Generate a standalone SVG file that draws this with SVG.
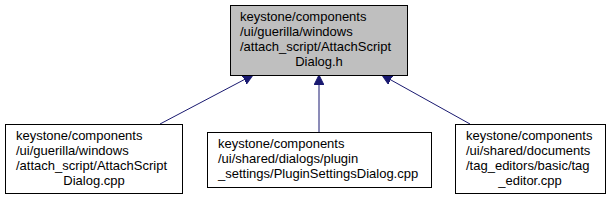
<svg xmlns="http://www.w3.org/2000/svg" width="612" height="200" viewBox="0 0 612 200">
<style>
.box{fill:#ffffff;stroke:#000000;stroke-width:1}
.cur{fill:#bfbfbf;stroke:#000000;stroke-width:1}
text{font-family:"Liberation Sans",Arial,sans-serif;font-size:13px;fill:#000000}
.edge{stroke:#191970;stroke-width:1;fill:none}
</style>
<defs>
<marker id="ah" viewBox="0 0 10 10" refX="10" refY="5" markerWidth="10" markerHeight="10" markerUnits="userSpaceOnUse" orient="auto">
<path d="M0,0 L10,5 L0,10 Z" fill="#191970" stroke="#191970"/>
</marker>
</defs>
<rect x="0" y="0" width="612" height="200" fill="#ffffff"/>
<g id="connectors">
<line class="edge" x1="160" y1="124" x2="253" y2="75" marker-end="url(#ah)"/>
<line class="edge" x1="319" y1="132" x2="319" y2="75" marker-end="url(#ah)"/>
<line class="edge" x1="470" y1="124" x2="382" y2="75" marker-end="url(#ah)"/>
</g>
<g id="node_h">
<rect class="cur" x="230.5" y="5.5" width="177" height="70"/>
<text x="240" y="21">keystone/components</text>
<text x="240" y="36">/ui/guerilla/windows</text>
<text x="240" y="51">/attach_script/AttachScript</text>
<text x="319" y="66" text-anchor="middle">Dialog.h</text>
</g>
<g id="node_cpp1">
<rect class="box" x="5.5" y="124.5" width="177" height="69"/>
<text x="16" y="140">keystone/components</text>
<text x="16" y="155">/ui/guerilla/windows</text>
<text x="16" y="170">/attach_script/AttachScript</text>
<text x="94" y="185" text-anchor="middle">Dialog.cpp</text>
</g>
<g id="node_cpp2">
<rect class="box" x="207.5" y="132.5" width="224" height="55"/>
<text x="218" y="148">keystone/components</text>
<text x="218" y="163">/ui/shared/dialogs/plugin</text>
<text x="218" y="178">_settings/PluginSettingsDialog.cpp</text>
</g>
<g id="node_cpp3">
<rect class="box" x="455.5" y="124.5" width="150" height="69"/>
<text x="466" y="140">keystone/components</text>
<text x="466" y="155">/ui/shared/documents</text>
<text x="466" y="170">/tag_editors/basic/tag</text>
<text x="530" y="185" text-anchor="middle">_editor.cpp</text>
</g>
</svg>
